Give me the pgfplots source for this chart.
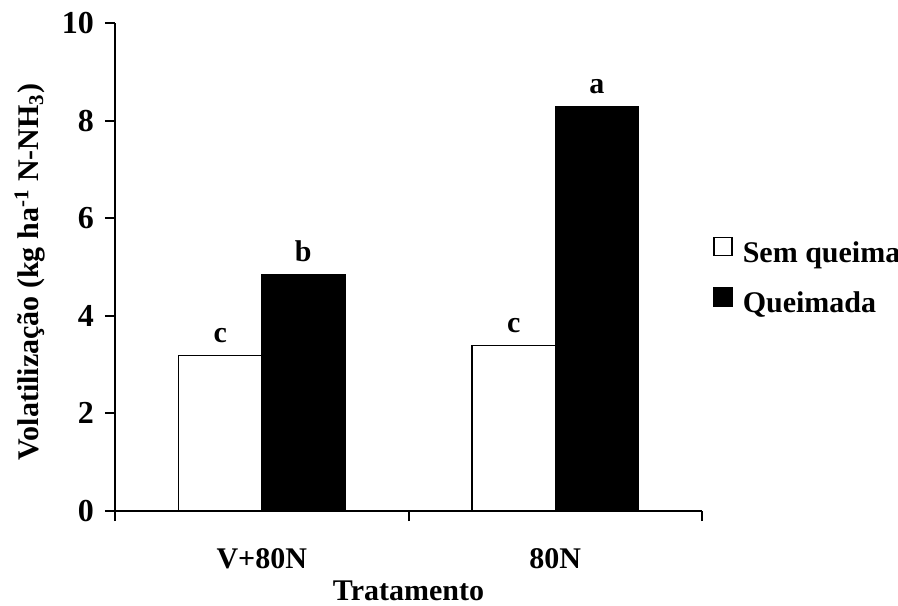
\documentclass[border=0pt]{standalone}
\usepackage{fontspec}
\setmainfont{Liberation Serif}
\usepackage{pgfplots}
\pgfplotsset{compat=1.18}
\newcommand{\bigbf}{\bfseries\fontsize{15}{18}\selectfont}
\begin{document}
\begin{tikzpicture}
\useasboundingbox (-57.5pt,-47pt) rectangle (391.5pt,255.5pt);
\begin{axis}[
  scale only axis, width=293.5pt, height=244pt,
  at={(0pt,0pt)}, anchor=south west,
  xmin=-0.5, xmax=1.5, ymin=0, ymax=10,
  axis x line=bottom, axis y line=left,
  axis line style={-, line width=1pt},
  ytick={0,2,4,6,8,10},
  xtick={-0.5,0.5,1.5}, xticklabels={},
  extra x ticks={0,1}, extra x tick labels={V+80N,80N},
  extra x tick style={major tick length=0pt, xticklabel style={yshift=-15pt}},
  tick align=outside, major tick length=5pt,
  tick style={black, line width=1pt},
  /pgf/number format/assume math mode=true,
  tick label style={font=\bigbf},
  yticklabel style={font=\bfseries\fontsize{16}{18}\selectfont, xshift=-2pt},
  xlabel={Tratamento}, ylabel={Volatilização (kg ha\textsuperscript{-1} N-NH\textsubscript{3})},
  label style={font=\bigbf},
  xlabel style={at={(axis description cs:0.5,-0.163)}, anchor=center, inner sep=0pt},
  ylabel style={at={(axis description cs:-0.145,0.49)}, anchor=center},
  ybar, bar width=0.283,
  legend style={at={(rel axis cs:1.0187,0.477)}, anchor=west, draw=none, fill=none,
    font=\bigbf, inner sep=0pt, row sep=9pt,
    nodes={inner sep=0pt, text height=10pt, text depth=3.5pt}},
  legend cell align=left,
  nodes near coords style={font=\bigbf, anchor=south, inner sep=0pt, yshift=6pt},
]
\addplot[draw=black, fill=white, line width=0.7pt, bar shift=-0.1415,
  nodes near coords, point meta=explicit symbolic,
  legend image code/.code={\draw[draw=black, fill=white, line width=0.7pt] (0pt,0pt) rectangle (9pt,9pt); \path (14pt,0pt);}]
  coordinates {(0,3.19) [c] (1,3.39) [c]};
\addlegendentry{Sem queima}
\addplot[draw=black, fill=black, line width=0.7pt, bar shift=0.1415,
  nodes near coords, point meta=explicit symbolic,
  legend image code/.code={\draw[draw=black, fill=black, line width=0.7pt] (0pt,0pt) rectangle (9pt,9pt); \path (14pt,0pt);}]
  coordinates {(0,4.84) [b] (1,8.28) [a]};
\addlegendentry{Queimada}
\end{axis}
\end{tikzpicture}
\end{document}
